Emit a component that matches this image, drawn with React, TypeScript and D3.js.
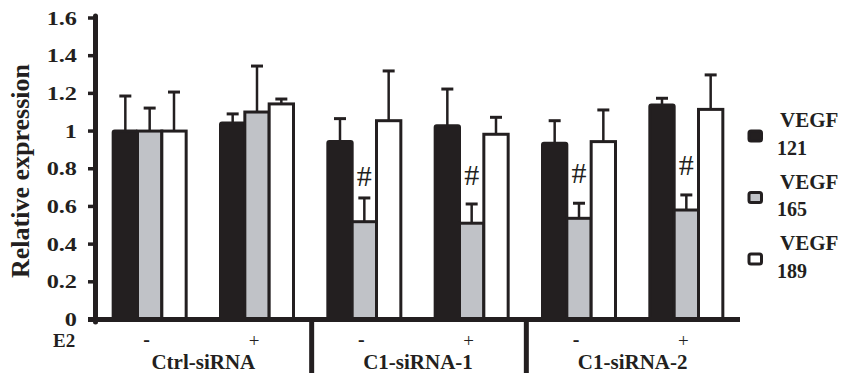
import React from "react";
import * as d3 from "d3";

const siRNA = ["Ctrl-siRNA", "C1-siRNA-1", "C1-siRNA-2"];
const e2Levels = ["-", "+"];
const seriesNames = ["VEGF 121", "VEGF 165", "VEGF 189"];
const vegf121 = [1.0, 1.043, 0.944, 1.028, 0.935, 1.138];
const vegf121Err = [0.186, 0.048, 0.122, 0.195, 0.12, 0.036];
const vegf165 = [1.0, 1.101, 0.519, 0.511, 0.537, 0.581];
const vegf165Err = [0.122, 0.244, 0.126, 0.102, 0.08, 0.08];
const vegf189 = [1.0, 1.144, 1.055, 0.983, 0.944, 1.115];
const vegf189Err = [0.207, 0.026, 0.264, 0.09, 0.168, 0.183];
const hashLevel = [null, null, 0.709, 0.714, 0.724, 0.767];
const yTicks = [0, 0.2, 0.4, 0.6, 0.8, 1, 1.2, 1.4, 1.6];

const values = [vegf121, vegf165, vegf189];
const errors = [vegf121Err, vegf165Err, vegf189Err];
const fills = ["#231f20", "#c0c2c7", "#ffffff"];
const ink = "#231f20";
const serif = "Liberation Serif, Times New Roman, serif";
const ts = { fontFamily: serif };

export default function App() {
  const W = 843, H = 373;
  const conds = siRNA.flatMap((s) => e2Levels.map((e) => `${s}|${e}`));
  const x = d3.scaleBand<string>().domain(conds).range([96, 740]).padding(0);
  const inner = d3.scaleBand<string>().domain(seriesNames).range([0, 73]).padding(0);
  const y = d3.scaleLinear().domain([0, 1.6]).range([319.5, 18]);
  const fmt = d3.format("~g");
  const step = x.step();

  return (
    <div style={{ position: "absolute", left: 0, top: 0 }}>
      <svg width={W} height={H} style={{ display: "block", background: "#fff", fontFamily: serif }}>
        {conds.map((c, ci) => {
          const cx = (x(c) as number) + step / 2;
          const g0 = cx - 36.5;
          return (
            <g key={c}>
              {seriesNames.map((s, si) => {
                const v = values[si][ci];
                const e = errors[si][ci];
                const bx = g0 + (inner(s) as number);
                const bw = inner.bandwidth();
                const mx = bx + bw / 2;
                return (
                  <g key={s}>
                    <line x1={mx} x2={mx} y1={y(v)} y2={y(v + e)} stroke={ink} strokeWidth={2.5} />
                    <line x1={mx - 6} x2={mx + 6} y1={y(v + e)} y2={y(v + e)} stroke={ink} strokeWidth={3} />
                    <rect x={bx} y={y(v)} width={bw} height={y(0) - y(v)} fill={fills[si]} stroke={ink} strokeWidth={3} rx={si === 0 ? 1.5 : 0} />
                  </g>
                );
              })}
              {hashLevel[ci] != null && (
                <text style={ts} x={g0 + (inner(seriesNames[1]) as number) + inner.bandwidth() / 2} y={y(hashLevel[ci] as number)} textAnchor="middle" fontSize={30} fill={ink}>#</text>
              )}
            </g>
          );
        })}

        <line x1={95.5} x2={95.5} y1={16} y2={322} stroke={ink} strokeWidth={5} strokeLinecap="round" />
        {yTicks.map((t) => (
          <g key={t}>
            <line x1={88} x2={95} y1={y(t)} y2={y(t)} stroke={ink} strokeWidth={3.5} />
            <text style={ts} transform={`translate(77,${y(t) + 6.5}) scale(1.35,1)`} textAnchor="end" fontSize={18} fontWeight="bold" fill={ink}>{fmt(t)}</text>
          </g>
        ))}
        <text style={ts} transform="translate(29,171) rotate(-90)" textAnchor="middle" fontSize={26} fontWeight="bold" fill={ink}>Relative expression</text>

        <line x1={88} x2={740} y1={319.5} y2={319.5} stroke={ink} strokeWidth={5} />
        <text style={ts} x={53} y={347} fontSize={19} fontWeight="bold" fill={ink}>E2</text>
        {conds.map((c) => {
          const cx = (x(c) as number) + step / 2;
          const lab = c.split("|")[1];
          return (
            <text style={ts} key={c} x={cx - 3} y={lab === "+" ? 347 : 346} textAnchor="middle" fontSize={lab === "+" ? 19 : 20} fontWeight={lab === "+" ? "normal" : "bold"} fill={ink}>{lab}</text>
          );
        })}
        {siRNA.map((s) => {
          const left = x(`${s}|${e2Levels[0]}`) as number;
          const cx = left + step;
          return (
            <text style={ts} key={s} x={cx} y={369} textAnchor="middle" fontSize={21} fontWeight="bold" fill={ink}>{s}</text>
          );
        })}
        {siRNA.slice(1).map((s) => {
          const left = (x(`${s}|${e2Levels[0]}`) as number) + 1;
          return <line key={s} x1={left} x2={left} y1={319.5} y2={H} stroke={ink} strokeWidth={5} />;
        })}

        {seriesNames.map((s, i) => {
          const cy = 136 + i * 61.5;
          const [a, b] = s.split(" ");
          return (
            <g key={s}>
              <rect x={749} y={cy - 5} width={12.5} height={10} rx={2} fill={fills[i]} stroke={ink} strokeWidth={3} />
              <text style={ts} x={780} y={cy - 9} fontSize={21} fontWeight="bold" fill={ink}>{a}</text>
              <text style={ts} x={777} y={cy + 18.5} fontSize={20} fontWeight="bold" fill={ink}>{b}</text>
            </g>
          );
        })}
      </svg>
    </div>
  );
}
